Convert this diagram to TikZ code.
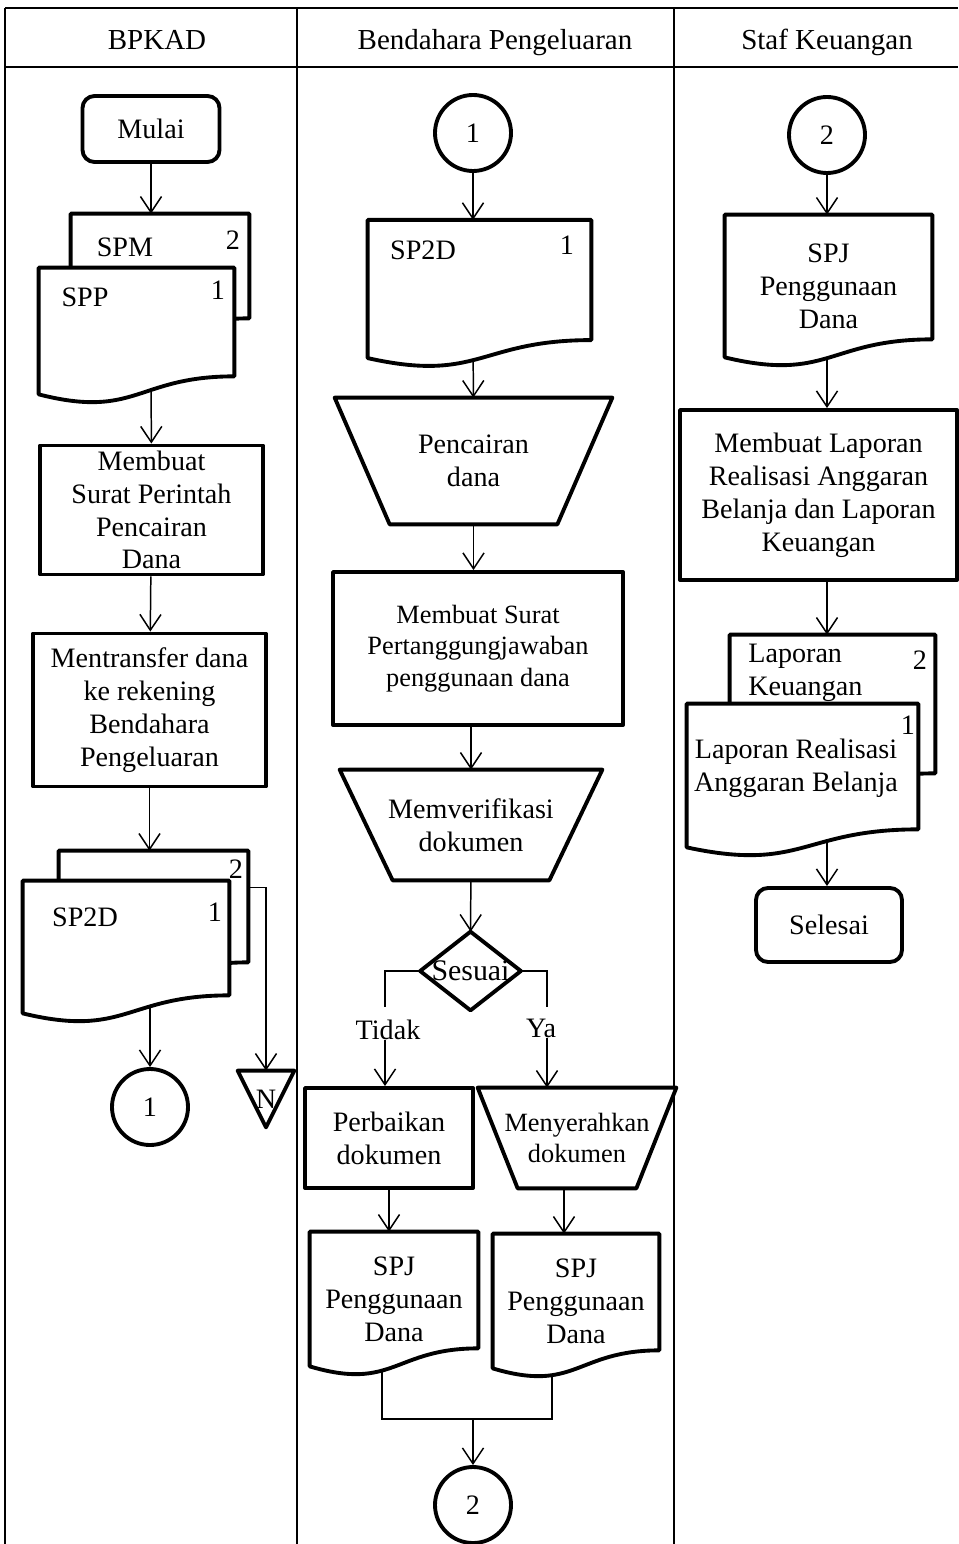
\documentclass[tikz,border=0pt]{standalone}
\usepackage{fontspec}
\setmainfont{Liberation Serif}
\usetikzlibrary{arrows.meta,positioning,calc,backgrounds}

% outlines drawn round plain rectangle nodes
\newcommand{\docline}[1]{%
  \draw[shapeline,fill=white] (#1.north west) -- (#1.north east)
    -- ([yshift=3.6mm]#1.south east)
    .. controls ([yshift=3.6mm]#1.south) and ([yshift=-5mm]#1.south) .. (#1.south west)
    -- cycle;}
\newcommand{\manualop}[2]{%
  \draw[shapeline,fill=white] (#1.north west) -- (#1.north east)
    -- ([xshift=-#2]#1.south east) -- ([xshift=#2]#1.south west) -- cycle;}
\newcommand{\decision}[1]{%
  \draw[shapeline,fill=white] (#1.north) -- (#1.east) -- (#1.south) -- (#1.west) -- cycle;}
\newcommand{\offpage}[1]{%
  \draw[shapeline,fill=white] (#1.north west) -- (#1.north east) -- (#1.south) -- cycle;}

\begin{document}
\begin{tikzpicture}[x=0.2mm, y=-0.2mm,
    shapeline/.style={line width=2.2pt, line join=round},
    tableline/.style={line width=1.1pt},
    txt/.style={font=\fontsize{16}{18.7}\selectfont, align=center, inner sep=0pt},
    small/.style={font=\fontsize{15}{18}\selectfont},
    head/.style={font=\fontsize{16.5}{19}\selectfont, inner sep=0pt, anchor=base},
    arr/.style={-{Straight Barb[length=9pt,width=12pt]}, line width=0.85pt},
    flow/.style={line width=0.85pt},
    term/.style={draw, shapeline, rounded corners=2.4mm, txt, fill=white},
    proc/.style={draw, shapeline, txt, fill=white},
    conn/.style={draw, circle, shapeline, txt, minimum size=15.2mm, fill=white},
    shapebox/.style={rectangle, txt}
]
\useasboundingbox (0,0) rectangle (958,1544);

% lane headers
\node[head] (hbpkad) at (157,50) {BPKAD};
\node[head] (hbend) at (495,50) {Bendahara Pengeluaran};
\node[head] (hstaf) at (827,50) {Staf Keuangan};

% BPKAD
\node[term, minimum width=27.4mm, minimum height=13.2mm] (mulai) at (151,129) {Mulai};
\node[shapebox, minimum width=35.6mm, minimum height=24.4mm] (spm) at (160,275) {};
\node[shapebox, minimum width=39mm, minimum height=25.2mm] (spp) at (136.5,331) {};
\node[txt] (spmt) at (125,247) {SPM};
\node[txt] (spmn) at (233,240) {2};
\node[txt] (sppt) at (85,297) {SPP};
\node[txt] (sppn) at (218,290) {1};
\node[proc, minimum width=44.6mm, minimum height=25.8mm] (surat) at (151.5,510) {Membuat\\Surat Perintah\\Pencairan\\Dana};
\node[proc, minimum width=46.6mm, minimum height=30.6mm] (transfer) at (149.5,710) {Mentransfer dana\\ke rekening\\Bendahara\\Pengeluaran};
\node[shapebox, minimum width=37.8mm, minimum height=25.8mm] (sp2db) at (153.5,915.5) {};
\node[shapebox, minimum width=41.2mm, minimum height=26.4mm] (sp2df) at (126,947) {};
\node[txt] (sp2dbn) at (236,869) {2};
\node[txt] (sp2dft) at (85,917) {SP2D};
\node[txt] (sp2dfn) at (215,912) {1};
\node[conn] (con1a) at (150,1107) {1};
\node[shapebox, minimum width=11.2mm, minimum height=11.2mm] (offp) at (266,1099) {N};

% Bendahara Pengeluaran
\node[conn] (con1b) at (473,133) {1};
\node[shapebox, minimum width=44.6mm, minimum height=27.5mm] (sp2d) at (479.5,289) {};
\node[txt] (sp2dt) at (423,250) {SP2D};
\node[txt] (sp2dn) at (567,245) {1};
\node[shapebox, minimum width=55.4mm, minimum height=25.2mm] (cair) at (473.5,461) {Pencairan\\dana};
\node[proc, small, minimum width=58mm, minimum height=30.6mm] (spjbox) at (478,648.5) {Membuat Surat\\Pertanggungjawaban\\penggunaan dana};
\node[shapebox, minimum width=52.4mm, minimum height=22mm] (verif) at (471,825) {Memverifikasi\\dokumen};
\node[shapebox, minimum width=20mm, minimum height=15.6mm, font=\fontsize{17}{19}\selectfont] (sesuai) at (470.5,971) {Sesuai};
\coordinate (tidakup) at (385,1007);
\coordinate (yaup) at (547,1007);
\node[txt] (tidak) at (388,1030) {Tidak};
\node[txt] (ya) at (541,1028) {Ya};
\node[proc, minimum width=33.6mm, minimum height=20mm] (perbaikan) at (389,1138) {Perbaikan\\dokumen};
\node[shapebox, small, minimum width=39.6mm, minimum height=20mm] (serah) at (577,1138) {Menyerahkan\\dokumen};
\node[shapebox, minimum width=33.6mm, minimum height=26.8mm] (spja) at (394,1299) {SPJ\\Penggunaan\\Dana};
\node[shapebox, minimum width=33.2mm, minimum height=26.8mm] (spjb) at (576,1301) {SPJ\\Penggunaan\\Dana};
\coordinate (mergel) at (382,1419);
\coordinate (merger) at (552,1419);
\node[conn] (con2a) at (473,1505) {2};

% Staf Keuangan
\node[conn] (con2b) at (827,135) {2};
\node[shapebox, minimum width=41.4mm, minimum height=28.4mm] (spj) at (828.5,286) {SPJ\\Penggunaan\\Dana};
\node[proc, minimum width=55.4mm, minimum height=34mm] (lap) at (818.5,495) {Membuat Laporan\\Realisasi Anggaran\\Belanja dan Laporan\\Keuangan};
\node[shapebox, minimum width=41mm, minimum height=31.2mm] (lk) at (832.5,713) {};
\node[shapebox, minimum width=46.2mm, minimum height=28.6mm] (lra) at (802.5,775.5) {};
\node[txt, anchor=west, align=left] (lkt) at (748,673) {Laporan\\Keuangan};
\node[txt] (lkn) at (920,660) {2};
\node[txt] (lran) at (908,725) {1};
\node[txt] (lrat) at (796,768) {Laporan Realisasi\\Anggaran Belanja};
\node[term, minimum width=29.2mm, minimum height=14.8mm] (selesai) at (829,925) {Selesai};

\begin{scope}[on background layer]
% lanes
\draw[tableline] (5,8) -- (958,8);
\draw[tableline] (5,67) -- (958,67);
\draw[tableline] (5,8) -- (5,1544);
\draw[tableline] (297,8) -- (297,1544);
\draw[tableline] (674,8) -- (674,1544);

% connectors
\draw[arr] (mulai) -- (mulai |- spm.north);
\draw[arr] (spp.center -| mulai) -- (surat);
\draw[arr] (surat) -- (transfer);
\draw[arr] (transfer) -- (transfer |- sp2db.north);
\draw[arr] (sp2df.center -| con1a) -- (con1a);
\draw[arr] ([yshift=-7.4mm]sp2db.north east) -| (offp);

\draw[arr] (con1b) -- (con1b |- sp2d.north);
\draw[arr] (sp2d.center -| con1b) -- (cair);
\draw[arr] (cair) -- (cair |- spjbox.north);
\draw[arr] (spjbox.south -| verif) -- (verif);
\draw[arr] (verif) -- (sesuai);
\draw[flow] (sesuai.west) -| (tidakup);
\draw[flow] (sesuai.east) -| (yaup);
\draw[arr] (tidak.south -| tidakup) -- (tidakup |- perbaikan.north);
\draw[arr] (ya.south -| yaup) -- (yaup |- serah.north);
\draw[arr] (perbaikan) -- (perbaikan |- spja.north);
\draw[arr] ([xshift=-2.6mm]serah.south) -- ([xshift=-2.6mm]serah.south |- spjb.north);
\draw[flow] (spja.center -| mergel) -- (mergel) -- (merger) -- (spjb.center -| merger);
\draw[arr] (con2a |- mergel) -- (con2a);

\draw[arr] (con2b) -- (con2b |- spj.north);
\draw[arr] (spj.center -| con2b) -- (con2b |- lap.north);
\draw[arr] (lap.south -| con2b) -- (con2b |- lk.north);
\draw[arr] (lra.center -| con2b) -- (con2b |- selesai.north);

% symbol outlines
\docline{spm}
\docline{spp}
\docline{sp2db}
\docline{sp2df}
\offpage{offp}
\docline{sp2d}
\manualop{cair}{11mm}
\manualop{verif}{10.6mm}
\decision{sesuai}
\manualop{serah}{8mm}
\docline{spja}
\docline{spjb}
\docline{spj}
\docline{lk}
\docline{lra}
\end{scope}
\end{tikzpicture}
\end{document}
